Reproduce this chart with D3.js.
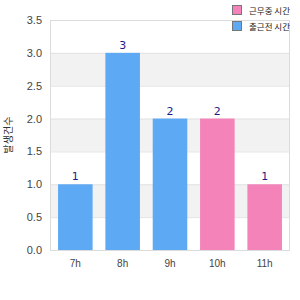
<!DOCTYPE html>
<html><head><meta charset="utf-8">
<script src="https://d3js.org/d3.v7.min.js"></script>
<style>body{margin:0;background:#fff}svg{display:block;font-family:"DejaVu Sans",sans-serif}</style>
</head><body><svg id="c" width="300" height="300"></svg>
<script>
const categories = ["7h","8h","9h","10h","11h"];
const values = [1,3,2,2,1];
const groups = ["am","am","am","pm","pm"];
const seriesNames = ["근무중 시간","출근전 시간"];
const seriesKeys = ["pm","am"];
const yTicks = [0,0.5,1,1.5,2,2.5,3,3.5];
const yTitle = "발생건수";

const colors = {am:"#5ea9f4", pm:"#f383b9"};
const svg = d3.select("#c");
const m = {l:50, r:10, t:20, b:50};
const W = 300, H = 300;
const x = d3.scaleBand().domain(categories).range([m.l, W-m.r]).paddingInner(0.27).paddingOuter(0.17);
const y = d3.scaleLinear().domain([0,3.5]).range([H-m.b, m.t]);

// alternating bands
for (let i=0;i<yTicks.length-1;i++){
  if (i%2===1){
    svg.append("rect").attr("x",m.l).attr("width",W-m.r-m.l)
      .attr("y",y(yTicks[i+1])).attr("height",y(yTicks[i])-y(yTicks[i+1])).attr("fill","#f2f2f2");
  }
}
// grid
svg.append("g").selectAll("line").data(yTicks).join("line")
  .attr("x1",m.l).attr("x2",W-m.r).attr("y1",d=>y(d)+0.5).attr("y2",d=>y(d)+0.5)
  .attr("stroke","#e3e3e3");
// border
svg.append("rect").attr("x",m.l+0.5).attr("y",m.t+0.5).attr("width",W-m.r-m.l-1).attr("height",H-m.b-m.t)
  .attr("fill","none").attr("stroke","#dcdcdc");

// y axis
const ya = svg.append("g").attr("transform",`translate(${m.l},0)`)
  .call(d3.axisLeft(y).tickValues(yTicks).tickFormat(d3.format(".1f")).tickSize(0).tickPadding(8));
ya.select(".domain").remove();
ya.selectAll("text").attr("fill","#444").style("font-size","11px");

// x axis
const xa = svg.append("g").attr("transform",`translate(0,${H-m.b})`)
  .call(d3.axisBottom(x).tickSize(0).tickPadding(10));
xa.select(".domain").remove();
xa.selectAll("text").attr("fill","#444").style("font-size","10px");

// bars
svg.append("g").selectAll("rect").data(categories).join("rect")
  .attr("x",d=>x(d)).attr("width",x.bandwidth())
  .attr("y",(d,i)=>y(values[i])).attr("height",(d,i)=>y(0)-y(values[i]))
  .attr("fill",(d,i)=>colors[groups[i]]);
svg.append("g").selectAll("text").data(categories).join("text")
  .attr("x",d=>x(d)+x.bandwidth()/2).attr("y",(d,i)=>y(values[i])-4)
  .attr("text-anchor","middle").attr("fill","#1c1c8a").style("font-size","11px")
  .text((d,i)=>values[i]);

// y title
svg.append("text").attr("transform",`translate(12,${(m.t+H-m.b)/2}) rotate(-90)`)
  .attr("text-anchor","middle").attr("fill","#333").style("font-size","10px")
  .style("font-family","'Noto Sans CJK KR',sans-serif").text(yTitle);

// legend
const lg = svg.append("g");
seriesKeys.forEach((k,i)=>{
  lg.append("rect").attr("x",232.5).attr("y",5.5+i*16).attr("width",9).attr("height",9)
    .attr("fill",colors[k]).attr("stroke","#777");
  lg.append("text").attr("x",249).attr("y",14+i*16).attr("fill","#222")
    .style("font-size","8.5px").style("font-family","'Noto Sans CJK KR',sans-serif").text(seriesNames[i]);
});
</script></body></html>
